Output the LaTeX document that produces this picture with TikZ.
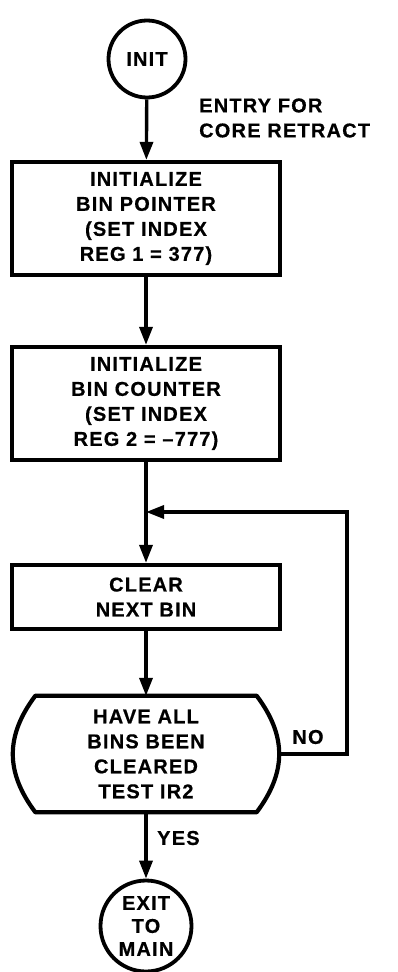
\documentclass[tikz,border=0pt]{standalone}
\usepackage{fontspec}
\setmainfont{Liberation Sans}[LetterSpace=6, BoldFeatures={FakeBold=0.6}]
\usetikzlibrary{arrows.meta}
\begin{document}
\begin{tikzpicture}[x=1pt,y=-1pt,
  every node/.style={font=\bfseries\fontsize{20}{25}\selectfont, align=center, inner sep=0pt},
  proc/.style={draw, line width=4.2pt, rectangle},
  term/.style={draw, line width=3.8pt, circle},
  flow/.style={line width=3.4pt, -{Triangle[length=18pt,width=13pt]}},
  plain/.style={line width=3.4pt}]
\useasboundingbox (0,0) rectangle (397,972);
\fill[white] (0,0) rectangle (397,972);
% terminals
\node[term, minimum size=77pt] (init) at (147,59) {INIT};
\node[anchor=west, align=left] (entry) at (199,118) {ENTRY FOR\\CORE RETRACT};
% process boxes
\node[proc, minimum width=268pt, minimum height=113pt] (b1) at (146,218.5) {INITIALIZE\\BIN POINTER\\(SET INDEX\\REG 1 = 377)};
\node[proc, minimum width=268pt, minimum height=113pt] (b2) at (146,403.5) {INITIALIZE\\BIN COUNTER\\(SET INDEX\\REG 2 = --777)};
\node[proc, minimum width=268pt, minimum height=64pt] (b3) at (146,597) {CLEAR\\NEXT BIN};
% decision
\node[minimum width=221pt, minimum height=116pt] (dec) at (146,754) {HAVE ALL\\BINS BEEN\\CLEARED\\TEST IR2};
\draw[line width=4.2pt, line join=round] (dec.north west) -- (dec.north east)
  .. controls +(30,40) and +(30,-40) .. (dec.south east) -- (dec.south west)
  .. controls +(-30,-40) and +(-30,40) .. (dec.north west) -- cycle;
\node[term, minimum size=91pt, font=\bfseries\fontsize{20}{23}\selectfont] (exit) at (146,926) {EXIT\\TO\\MAIN};
% helper coordinates
\coordinate (decR) at (279,754);
\coordinate (rt) at (347,512);
\coordinate (j) at (146,512);
% connectors
\draw[flow] (init) -- (b1);
\draw[flow] (b1) -- (b2);
\draw[flow] (b2) -- (b3);
\draw[flow] (b3) -- (dec.north);
\draw[flow] (dec.south) -- (exit);
\draw[flow] (decR) -- (decR -| rt) -- (rt) -- (j);
% labels
\node (no) at (308,737) {NO};
\node[anchor=west] (yes) at (157,838) {YES};
\end{tikzpicture}
\end{document}
